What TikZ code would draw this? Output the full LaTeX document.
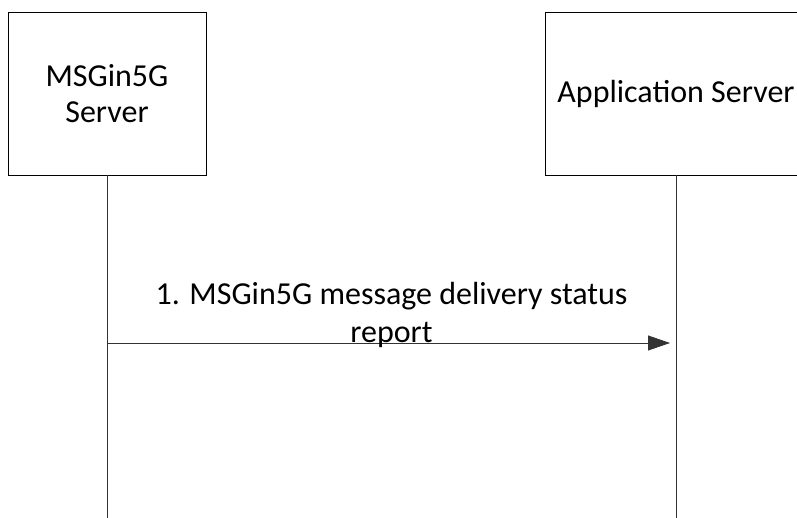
\documentclass[tikz,border=0pt]{standalone}
\usepackage{fontspec}
\setmainfont{Carlito}
\usetikzlibrary{arrows.meta}
\begin{document}
\begin{tikzpicture}[x=1pt,y=-1pt,
  entity/.style={draw=black,line width=0.8pt,fill=white,inner sep=0pt,align=center,font=\fontsize{32}{36}\selectfont},
  lifeline/.style={draw=black!80,line width=0.8pt},
  msg/.style={draw=black!80,line width=0.8pt,-{Triangle[length=22pt,width=15pt]},shorten >=6pt},
  lbl/.style={align=center,inner sep=0pt,font=\fontsize{32}{38}\selectfont}]
\useasboundingbox (0,0) rectangle (797,518);
\clip (0,0) rectangle (797,518);
\node[entity,minimum width=198pt,minimum height=163pt] (ms) at (107,93.5) {MSGin5G\\Server};
\node[entity,minimum width=262pt,minimum height=163pt] (as) at (676,93.5) {Application Server};
\coordinate (msend) at (107,518);
\coordinate (asend) at (676,518);
\draw[lifeline] (ms.south) -- (msend);
\draw[lifeline] (as.south) -- (asend);
\coordinate (m1) at (107,343);
\coordinate (a1) at (676,343);
\draw[msg] (m1) -- (a1);
\node[lbl] (l1) at (391.5,315) {1. MSGin5G message delivery status\\report};
\end{tikzpicture}
\end{document}
